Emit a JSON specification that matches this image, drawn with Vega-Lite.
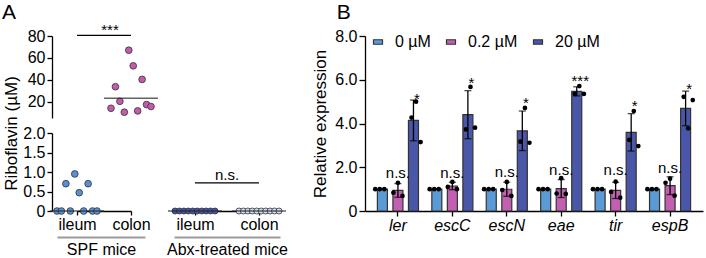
{
  "$schema": "https://vega.github.io/schema/vega-lite/v6.json",
  "padding": {"left": 2, "top": 2, "right": 2, "bottom": 2},
  "background": "white",
  "datasets": {
    "ribo": [
      {"treatment": "SPF mice", "tissue": "ileum", "rep": 1, "value": 0},
      {"treatment": "SPF mice", "tissue": "ileum", "rep": 2, "value": 0},
      {"treatment": "SPF mice", "tissue": "ileum", "rep": 3, "value": 0.7},
      {"treatment": "SPF mice", "tissue": "ileum", "rep": 4, "value": 0},
      {"treatment": "SPF mice", "tissue": "ileum", "rep": 5, "value": 0.95},
      {"treatment": "SPF mice", "tissue": "ileum", "rep": 6, "value": 0.47},
      {"treatment": "SPF mice", "tissue": "ileum", "rep": 7, "value": 0},
      {"treatment": "SPF mice", "tissue": "ileum", "rep": 8, "value": 0.7},
      {"treatment": "SPF mice", "tissue": "ileum", "rep": 9, "value": 0},
      {"treatment": "SPF mice", "tissue": "ileum", "rep": 10, "value": 0},
      {"treatment": "SPF mice", "tissue": "colon", "rep": 1, "value": 13.9},
      {"treatment": "SPF mice", "tissue": "colon", "rep": 2, "value": 33.6},
      {"treatment": "SPF mice", "tissue": "colon", "rep": 3, "value": 20.3},
      {"treatment": "SPF mice", "tissue": "colon", "rep": 4, "value": 10.3},
      {"treatment": "SPF mice", "tissue": "colon", "rep": 5, "value": 67.0},
      {"treatment": "SPF mice", "tissue": "colon", "rep": 6, "value": 52.7},
      {"treatment": "SPF mice", "tissue": "colon", "rep": 7, "value": 11.5},
      {"treatment": "SPF mice", "tissue": "colon", "rep": 8, "value": 40.3},
      {"treatment": "SPF mice", "tissue": "colon", "rep": 9, "value": 17.3},
      {"treatment": "SPF mice", "tissue": "colon", "rep": 10, "value": 15.5},
      {"treatment": "Abx-treated mice", "tissue": "ileum", "rep": 1, "value": 0},
      {"treatment": "Abx-treated mice", "tissue": "ileum", "rep": 2, "value": 0},
      {"treatment": "Abx-treated mice", "tissue": "ileum", "rep": 3, "value": 0},
      {"treatment": "Abx-treated mice", "tissue": "ileum", "rep": 4, "value": 0},
      {"treatment": "Abx-treated mice", "tissue": "ileum", "rep": 5, "value": 0},
      {"treatment": "Abx-treated mice", "tissue": "ileum", "rep": 6, "value": 0},
      {"treatment": "Abx-treated mice", "tissue": "ileum", "rep": 7, "value": 0},
      {"treatment": "Abx-treated mice", "tissue": "ileum", "rep": 8, "value": 0},
      {"treatment": "Abx-treated mice", "tissue": "ileum", "rep": 9, "value": 0},
      {"treatment": "Abx-treated mice", "tissue": "ileum", "rep": 10, "value": 0},
      {"treatment": "Abx-treated mice", "tissue": "colon", "rep": 1, "value": 0},
      {"treatment": "Abx-treated mice", "tissue": "colon", "rep": 2, "value": 0},
      {"treatment": "Abx-treated mice", "tissue": "colon", "rep": 3, "value": 0},
      {"treatment": "Abx-treated mice", "tissue": "colon", "rep": 4, "value": 0},
      {"treatment": "Abx-treated mice", "tissue": "colon", "rep": 5, "value": 0},
      {"treatment": "Abx-treated mice", "tissue": "colon", "rep": 6, "value": 0},
      {"treatment": "Abx-treated mice", "tissue": "colon", "rep": 7, "value": 0},
      {"treatment": "Abx-treated mice", "tissue": "colon", "rep": 8, "value": 0},
      {"treatment": "Abx-treated mice", "tissue": "colon", "rep": 9, "value": 0},
      {"treatment": "Abx-treated mice", "tissue": "colon", "rep": 10, "value": 0}
    ],
    "medians": [
      {"treatment": "SPF mice", "tissue": "ileum", "median": 0},
      {"treatment": "SPF mice", "tissue": "colon", "median": 23},
      {"treatment": "Abx-treated mice", "tissue": "ileum", "median": 0},
      {"treatment": "Abx-treated mice", "tissue": "colon", "median": 0}
    ],
    "sig": [
      {"treatment": "SPF mice", "from": "ileum", "to": "colon", "y": 80.6, "label": "***"},
      {"treatment": "Abx-treated mice", "from": "ileum", "to": "colon", "y": 0.72, "label": "n.s."}
    ],
    "expr": [
      {"gene": "ler", "conc": "0 µM", "sample": "0 µM #1", "value": 1},
      {"gene": "ler", "conc": "0 µM", "sample": "0 µM #2", "value": 1},
      {"gene": "ler", "conc": "0 µM", "sample": "0 µM #3", "value": 1},
      {"gene": "ler", "conc": "0.2 µM", "sample": "0.2 µM #1", "value": 0.84},
      {"gene": "ler", "conc": "0.2 µM", "sample": "0.2 µM #2", "value": 1.29},
      {"gene": "ler", "conc": "0.2 µM", "sample": "0.2 µM #3", "value": 0.69},
      {"gene": "ler", "conc": "20 µM", "sample": "20 µM #1", "value": 4.27},
      {"gene": "ler", "conc": "20 µM", "sample": "20 µM #2", "value": 5.0},
      {"gene": "ler", "conc": "20 µM", "sample": "20 µM #3", "value": 3.15},
      {"gene": "escC", "conc": "0 µM", "sample": "0 µM #1", "value": 1},
      {"gene": "escC", "conc": "0 µM", "sample": "0 µM #2", "value": 1},
      {"gene": "escC", "conc": "0 µM", "sample": "0 µM #3", "value": 1},
      {"gene": "escC", "conc": "0.2 µM", "sample": "0.2 µM #1", "value": 1.1},
      {"gene": "escC", "conc": "0.2 µM", "sample": "0.2 µM #2", "value": 1.33},
      {"gene": "escC", "conc": "0.2 µM", "sample": "0.2 µM #3", "value": 1.0},
      {"gene": "escC", "conc": "20 µM", "sample": "20 µM #1", "value": 3.73},
      {"gene": "escC", "conc": "20 µM", "sample": "20 µM #2", "value": 5.67},
      {"gene": "escC", "conc": "20 µM", "sample": "20 µM #3", "value": 3.81},
      {"gene": "escN", "conc": "0 µM", "sample": "0 µM #1", "value": 1},
      {"gene": "escN", "conc": "0 µM", "sample": "0 µM #2", "value": 1},
      {"gene": "escN", "conc": "0 µM", "sample": "0 µM #3", "value": 1},
      {"gene": "escN", "conc": "0.2 µM", "sample": "0.2 µM #1", "value": 0.96},
      {"gene": "escN", "conc": "0.2 µM", "sample": "0.2 µM #2", "value": 1.33},
      {"gene": "escN", "conc": "0.2 µM", "sample": "0.2 µM #3", "value": 0.69},
      {"gene": "escN", "conc": "20 µM", "sample": "20 µM #1", "value": 3.17},
      {"gene": "escN", "conc": "20 µM", "sample": "20 µM #2", "value": 4.71},
      {"gene": "escN", "conc": "20 µM", "sample": "20 µM #3", "value": 3.12},
      {"gene": "eae", "conc": "0 µM", "sample": "0 µM #1", "value": 1},
      {"gene": "eae", "conc": "0 µM", "sample": "0 µM #2", "value": 1},
      {"gene": "eae", "conc": "0 µM", "sample": "0 µM #3", "value": 1},
      {"gene": "eae", "conc": "0.2 µM", "sample": "0.2 µM #1", "value": 0.8},
      {"gene": "eae", "conc": "0.2 µM", "sample": "0.2 µM #2", "value": 1.5},
      {"gene": "eae", "conc": "0.2 µM", "sample": "0.2 µM #3", "value": 0.78},
      {"gene": "eae", "conc": "20 µM", "sample": "20 µM #1", "value": 5.35},
      {"gene": "eae", "conc": "20 µM", "sample": "20 µM #2", "value": 5.71},
      {"gene": "eae", "conc": "20 µM", "sample": "20 µM #3", "value": 5.35},
      {"gene": "tir", "conc": "0 µM", "sample": "0 µM #1", "value": 1},
      {"gene": "tir", "conc": "0 µM", "sample": "0 µM #2", "value": 1},
      {"gene": "tir", "conc": "0 µM", "sample": "0 µM #3", "value": 1},
      {"gene": "tir", "conc": "0.2 µM", "sample": "0.2 µM #1", "value": 0.87},
      {"gene": "tir", "conc": "0.2 µM", "sample": "0.2 µM #2", "value": 1.34},
      {"gene": "tir", "conc": "0.2 µM", "sample": "0.2 µM #3", "value": 0.61},
      {"gene": "tir", "conc": "20 µM", "sample": "20 µM #1", "value": 3.25},
      {"gene": "tir", "conc": "20 µM", "sample": "20 µM #2", "value": 4.57},
      {"gene": "tir", "conc": "20 µM", "sample": "20 µM #3", "value": 2.97},
      {"gene": "espB", "conc": "0 µM", "sample": "0 µM #1", "value": 1},
      {"gene": "espB", "conc": "0 µM", "sample": "0 µM #2", "value": 1},
      {"gene": "espB", "conc": "0 µM", "sample": "0 µM #3", "value": 1},
      {"gene": "espB", "conc": "0.2 µM", "sample": "0.2 µM #1", "value": 1.29},
      {"gene": "espB", "conc": "0.2 µM", "sample": "0.2 µM #2", "value": 1.48},
      {"gene": "espB", "conc": "0.2 µM", "sample": "0.2 µM #3", "value": 0.7},
      {"gene": "espB", "conc": "20 µM", "sample": "20 µM #1", "value": 5.22},
      {"gene": "espB", "conc": "20 µM", "sample": "20 µM #2", "value": 3.78},
      {"gene": "espB", "conc": "20 µM", "sample": "20 µM #3", "value": 5.07}
    ],
    "bsig": [
      {"gene": "ler", "conc": "0.2 µM", "label": "n.s.", "y": 1.51},
      {"gene": "escC", "conc": "0.2 µM", "label": "n.s.", "y": 1.52},
      {"gene": "escN", "conc": "0.2 µM", "label": "n.s.", "y": 1.55},
      {"gene": "eae", "conc": "0.2 µM", "label": "n.s.", "y": 1.65},
      {"gene": "tir", "conc": "0.2 µM", "label": "n.s.", "y": 1.65},
      {"gene": "espB", "conc": "0.2 µM", "label": "n.s.", "y": 1.72},
      {"gene": "ler", "conc": "20 µM", "label": "*", "y": 4.89},
      {"gene": "escC", "conc": "20 µM", "label": "*", "y": 5.62},
      {"gene": "escN", "conc": "20 µM", "label": "*", "y": 4.71},
      {"gene": "eae", "conc": "20 µM", "label": "***", "y": 5.71},
      {"gene": "tir", "conc": "20 µM", "label": "*", "y": 4.57},
      {"gene": "espB", "conc": "20 µM", "label": "*", "y": 5.35}
    ]
  },
  "resolve": {"scale": {"color": "independent"}},
  "hconcat": [
    {
      "spacing": 15,
      "bounds": "flush",
      "resolve": {"scale": {"color": "independent"}},
      "vconcat": [
        {
          "width": 98,
          "height": 82,
          "title": {"text": "A", "anchor": "start", "frame": "bounds", "fontSize": 21, "offset": 0},
          "resolve": {"scale": {"x": "independent"}},
          "layer": [
            {
              "data": {"name": "ribo"},
              "transform": [{"filter": "datum.treatment === 'SPF mice' && datum.value > 2"}],
              "mark": {"type": "circle", "size": 45, "stroke": "#333", "strokeWidth": 0.8, "opacity": 1},
              "encoding": {
                "x": {"field": "tissue", "type": "nominal", "scale": {"type": "point", "domain": ["ileum", "colon"], "range": [25, 79], "padding": 0}, "axis": null},
                "xOffset": {"field": "rep", "type": "ordinal", "scale": {"type": "point", "domain": [1, 2, 3, 4, 5, 6, 7, 8, 9, 10], "range": [-20, 20], "padding": 0}},
                "y": {"field": "value", "type": "quantitative", "title": "Riboflavin (µM)", "scale": {"domain": [5, 80]},
                  "axis": {"tickCount": 4, "labelOverlap": false, "titleX": -41, "titleY": 97, "titleBaseline": "middle", "tickSize": 5, "labelPadding": 2}},
                "color": {"field": "tissue", "type": "nominal", "scale": {"domain": ["ileum", "colon"], "range": ["#5b8fd3", "#c35bb0"]}, "legend": null}
              }
            },
            {
              "data": {"name": "medians"},
              "transform": [{"filter": "datum.treatment === 'SPF mice' && datum.tissue === 'colon'"}],
              "mark": {"type": "tick", "orient": "horizontal", "size": 54, "thickness": 1.6, "color": "#222"},
              "encoding": {
                "x": {"field": "tissue", "type": "nominal", "scale": {"type": "point", "domain": ["ileum", "colon"], "range": [25, 79], "padding": 0}, "axis": null},
                "y": {"field": "median", "type": "quantitative", "title": "Riboflavin (µM)", "scale": {"domain": [5, 80]}}
              }
            },
            {
              "data": {"name": "sig"},
              "transform": [{"filter": "datum.treatment === 'SPF mice'"}],
              "mark": {"type": "rule", "color": "#000", "strokeWidth": 1.3},
              "encoding": {
                "x": {"field": "from", "type": "nominal", "scale": {"type": "point", "domain": ["ileum", "colon"], "range": [25, 79], "padding": 0}, "axis": null},
                "x2": {"field": "to"},
                "y": {"field": "y", "type": "quantitative", "title": "Riboflavin (µM)", "scale": {"domain": [5, 80]}}
              }
            },
            {
              "data": {"name": "sig"},
              "transform": [{"filter": "datum.treatment === 'SPF mice'"}],
              "mark": {"type": "text", "fontSize": 15, "baseline": "alphabetic", "color": "#000"},
              "encoding": {
                "x": {"field": "treatment", "type": "nominal", "scale": {"type": "point", "domain": ["SPF mice"], "range": [25, 91], "padding": 0}, "axis": null},
                "y": {"field": "y", "type": "quantitative", "title": "Riboflavin (µM)", "scale": {"domain": [5, 80]}},
                "text": {"field": "label"}
              }
            }
          ]
        },
        {
          "spacing": 0,
          "bounds": "flush",
          "resolve": {"scale": {"color": "independent"}},
          "hconcat": [
            {
              "width": 98,
              "height": 78,
              "resolve": {"scale": {"x": "independent"}},
              "layer": [
                {
                  "data": {"name": "ribo"},
                  "transform": [{"filter": "datum.treatment === 'SPF mice' && datum.value <= 2"}],
                  "mark": {"type": "circle", "size": 45, "stroke": "#333", "strokeWidth": 0.8, "opacity": 1},
                  "encoding": {
                    "x": {"field": "tissue", "type": "nominal", "scale": {"type": "point", "domain": ["ileum", "colon"], "range": [25, 79], "padding": 0},
                      "axis": {"title": null, "labelAngle": 0, "tickSize": 4, "labelPadding": 1}},
                    "xOffset": {"field": "rep", "type": "ordinal", "scale": {"type": "point", "domain": [1, 2, 3, 4, 5, 6, 7, 8, 9, 10], "range": [-20, 20], "padding": 0}},
                    "y": {"field": "value", "type": "quantitative", "title": null, "scale": {"domain": [0, 2]},
                      "axis": {"tickCount": 4, "labelExpr": "datum.value === 0 ? '0' : format(datum.value, '.1f')", "labelOverlap": false, "title": null, "tickSize": 5, "labelPadding": 2}},
                    "color": {"field": "tissue", "type": "nominal", "scale": {"domain": ["ileum", "colon"], "range": ["#5b8fd3", "#c35bb0"]}, "legend": null}
                  }
                },
                {
                  "data": {"name": "medians"},
                  "transform": [{"filter": "datum.treatment === 'SPF mice' && datum.tissue === 'ileum'"}],
                  "mark": {"type": "tick", "orient": "horizontal", "size": 54, "thickness": 1.6, "color": "#222"},
                  "encoding": {
                    "x": {"field": "tissue", "type": "nominal", "scale": {"type": "point", "domain": ["ileum", "colon"], "range": [25, 79], "padding": 0}, "axis": null},
                    "y": {"field": "median", "type": "quantitative", "title": null, "scale": {"domain": [0, 2]}}
                  }
                },
                {
                  "data": {"name": "sig"},
                  "transform": [{"filter": "datum.treatment === 'SPF mice'"}],
                  "mark": {"type": "text", "color": "#000"},
                  "encoding": {
                    "x": {"field": "treatment", "type": "nominal", "scale": {"type": "point", "domain": ["SPF mice"], "range": [5, 93], "padding": 0},
                      "axis": {"orient": "bottom", "offset": 26, "domainColor": "#9a9a9a", "domainWidth": 1.8, "ticks": false, "labels": false, "title": "SPF mice", "titlePadding": 4}},
                    "y": {"datum": 0, "type": "quantitative", "title": null, "scale": {"domain": [0, 2]}},
                    "text": {"value": ""}
                  }
                }
              ]
            },
            {
              "width": 150,
              "height": 78,
              "resolve": {"scale": {"x": "independent"}},
              "layer": [
                {
                  "data": {"name": "ribo"},
                  "transform": [{"filter": "datum.treatment === 'Abx-treated mice'"}],
                  "mark": {"type": "circle", "size": 36, "stroke": "#333", "strokeWidth": 0.8, "opacity": 1},
                  "encoding": {
                    "x": {"field": "tissue", "type": "nominal", "scale": {"type": "point", "domain": ["ileum", "colon"], "range": [45, 109], "padding": 0},
                      "axis": {"title": null, "labelAngle": 0, "tickSize": 4, "labelPadding": 1}},
                    "xOffset": {"field": "rep", "type": "ordinal", "scale": {"type": "point", "domain": [1, 2, 3, 4, 5, 6, 7, 8, 9, 10], "range": [-20, 20], "padding": 0}},
                    "y": {"field": "value", "type": "quantitative", "title": null, "scale": {"domain": [0, 2]}, "axis": null},
                    "color": {"field": "tissue", "type": "nominal", "scale": {"domain": ["ileum", "colon"], "range": ["#4453ab", "#d0def1"]}, "legend": null}
                  }
                },
                {
                  "data": {"name": "medians"},
                  "transform": [{"filter": "datum.treatment === 'Abx-treated mice'"}],
                  "mark": {"type": "tick", "orient": "horizontal", "size": 54, "thickness": 1.6, "color": "#222"},
                  "encoding": {
                    "x": {"field": "tissue", "type": "nominal", "scale": {"type": "point", "domain": ["ileum", "colon"], "range": [45, 109], "padding": 0}, "axis": null},
                    "y": {"field": "median", "type": "quantitative", "title": null, "scale": {"domain": [0, 2]}}
                  }
                },
                {
                  "data": {"name": "sig"},
                  "transform": [{"filter": "datum.treatment === 'Abx-treated mice'"}],
                  "mark": {"type": "rule", "color": "#000", "strokeWidth": 1.3},
                  "encoding": {
                    "x": {"field": "from", "type": "nominal", "scale": {"type": "point", "domain": ["ileum", "colon"], "range": [45, 109], "padding": 0}, "axis": null},
                    "x2": {"field": "to"},
                    "y": {"field": "y", "type": "quantitative", "title": null, "scale": {"domain": [0, 2]}}
                  }
                },
                {
                  "data": {"name": "sig"},
                  "transform": [{"filter": "datum.treatment === 'Abx-treated mice'"}],
                  "mark": {"type": "text", "fontSize": 15, "baseline": "alphabetic", "dy": -3, "color": "#000"},
                  "encoding": {
                    "x": {"field": "treatment", "type": "nominal", "scale": {"type": "point", "domain": ["Abx-treated mice"], "range": [45, 109], "padding": 0}, "axis": null},
                    "y": {"field": "y", "type": "quantitative", "title": null, "scale": {"domain": [0, 2]}},
                    "text": {"field": "label"}
                  }
                },
                {
                  "data": {"name": "sig"},
                  "transform": [{"filter": "datum.treatment === 'Abx-treated mice'"}],
                  "mark": {"type": "text", "color": "#000"},
                  "encoding": {
                    "x": {"field": "treatment", "type": "nominal", "scale": {"type": "point", "domain": ["Abx-treated mice"], "range": [24, 130], "padding": 0},
                      "axis": {"orient": "bottom", "offset": 26, "domainColor": "#9a9a9a", "domainWidth": 1.8, "ticks": false, "labels": false, "title": "Abx-treated mice", "titlePadding": 4}},
                    "y": {"datum": 0, "type": "quantitative", "title": null, "scale": {"domain": [0, 2]}},
                    "text": {"value": ""}
                  }
                }
              ]
            }
          ]
        }
      ]
    },
    {
      "width": 338,
      "height": 175,
      "title": {"text": "B", "anchor": "start", "frame": "bounds", "fontSize": 21, "offset": 5, "dx": 25},
      "resolve": {"scale": {"xOffset": "independent"}},
      "layer": [
        {
          "data": {"name": "expr"},
          "mark": {"type": "bar", "stroke": "#333", "strokeWidth": 1.2},
          "encoding": {
            "x": {"field": "gene", "type": "nominal", "scale": {"domain": ["ler", "escC", "escN", "eae", "tir", "espB"], "paddingInner": 0, "paddingOuter": 0.105},
              "axis": {"title": null, "labelFontStyle": "italic", "labelAngle": 0, "tickSize": 5, "labelPadding": 1}},
            "xOffset": {"field": "conc", "type": "nominal", "scale": {"domain": ["0 µM", "0.2 µM", "20 µM"], "paddingInner": 0.355, "paddingOuter": 0.43}},
            "y": {"aggregate": "mean", "field": "value", "type": "quantitative", "title": "Relative expression", "scale": {"domain": [0, 8]},
              "axis": {"values": [0, 2, 4, 6, 8], "labelExpr": "datum.value === 0 ? '0' : format(datum.value, '.1f')", "labelOverlap": false, "tickSize": 6, "labelPadding": 2, "titlePadding": 5}},
            "color": {"field": "conc", "type": "nominal", "scale": {"domain": ["0 µM", "0.2 µM", "20 µM"], "range": ["#5b9bd5", "#c25fb1", "#4a56a8"]},
              "legend": {"title": null, "orient": "none", "legendX": 3, "legendY": -4, "direction": "horizontal", "gridAlign": "none", "symbolType": "M-0.5,-0.25H0.5V0.25H-0.5Z", "symbolSize": 324, "symbolStrokeColor": "#333", "symbolStrokeWidth": 1.2, "symbolOpacity": 1, "labelFontSize": 16, "labelOffset": 7, "columnPadding": 10, "labelColor": "#000", "padding": 0}}
          }
        },
        {
          "data": {"name": "expr"},
          "mark": {"type": "errorbar", "extent": "stdev", "color": "#000", "thickness": 1.3, "ticks": {"size": 7, "thickness": 1.3}},
          "encoding": {
            "x": {"field": "gene", "type": "nominal", "scale": {"domain": ["ler", "escC", "escN", "eae", "tir", "espB"], "paddingInner": 0, "paddingOuter": 0.105}},
            "xOffset": {"field": "conc", "type": "nominal", "scale": {"domain": ["0 µM", "0.2 µM", "20 µM"], "paddingInner": 0.355, "paddingOuter": 0.43}},
            "y": {"field": "value", "type": "quantitative", "title": "Relative expression", "scale": {"domain": [0, 8]}}
          }
        },
        {
          "data": {"name": "expr"},
          "mark": {"type": "circle", "size": 22, "color": "#000", "opacity": 1},
          "encoding": {
            "x": {"field": "gene", "type": "nominal", "scale": {"domain": ["ler", "escC", "escN", "eae", "tir", "espB"], "paddingInner": 0, "paddingOuter": 0.105}},
            "xOffset": {"field": "sample", "type": "nominal", "scale": {"type": "point", "domain": ["0 µM #1", "0 µM #2", "0 µM #3", "gap1", "0.2 µM #1", "0.2 µM #2", "0.2 µM #3", "gap2", "20 µM #1", "20 µM #2", "20 µM #3"], "padding": 2.02}},
            "y": {"field": "value", "type": "quantitative", "title": "Relative expression", "scale": {"domain": [0, 8]}}
          }
        },
        {
          "data": {"name": "bsig"},
          "mark": {"type": "text", "fontSize": 15, "baseline": "alphabetic", "color": "#000"},
          "encoding": {
            "x": {"field": "gene", "type": "nominal", "scale": {"domain": ["ler", "escC", "escN", "eae", "tir", "espB"], "paddingInner": 0, "paddingOuter": 0.105}},
            "xOffset": {"field": "conc", "type": "nominal", "scale": {"domain": ["0 µM", "0.2 µM", "20 µM"], "paddingInner": 0.355, "paddingOuter": 0.43}},
            "y": {"field": "y", "type": "quantitative", "title": "Relative expression", "scale": {"domain": [0, 8]}},
            "text": {"field": "label"}
          }
        }
      ]
    }
  ],
  "spacing": 11,
  "config": {
    "view": {"stroke": null},
    "font": "Liberation Sans",
    "axis": {"domainColor": "#000", "tickColor": "#000", "domainWidth": 1.3, "tickWidth": 1.3, "labelColor": "#000", "titleColor": "#000", "labelFontSize": 16, "titleFontSize": 17, "titleFontWeight": "normal", "grid": false, "labelOverlap": false},
    "axisY": {"labelOverlap": false},
    "axisX": {"titleFontSize": 16},
    "title": {"fontWeight": "normal", "color": "#000"}
  }
}
